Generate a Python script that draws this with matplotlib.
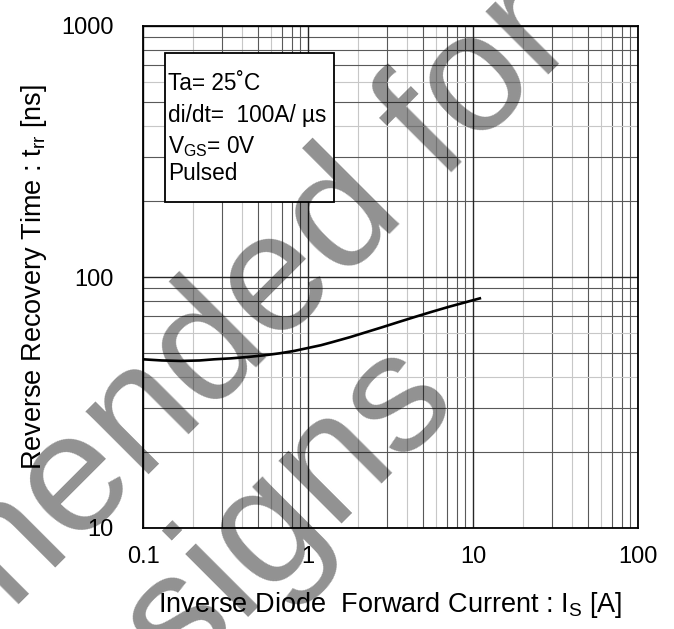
import matplotlib
matplotlib.use("Agg")
from matplotlib import pyplot as plt
from matplotlib.patches import Rectangle
from matplotlib.ticker import NullFormatter, FixedLocator

plt.rcParams["font.family"] = ["Liberation Sans", "DejaVu Sans"]
plt.rcParams["mathtext.fontset"] = "custom"
plt.rcParams["mathtext.rm"] = "Liberation Sans"

# curve: Is [A] vs trr [ns]
current = [0.1, 0.13, 0.17, 0.22, 0.27, 0.34, 0.43, 0.55, 0.68, 0.83, 0.98,
           1.2, 1.4, 1.8, 2.2, 2.8, 3.55, 4.5, 5.6, 7.2, 9.0, 11.0]
trr = [47, 46.5, 46.3, 46.5, 47, 47.4, 48, 48.8, 49.7, 50.8, 52,
       53.5, 55, 57.6, 60, 63, 66.2, 69.5, 72.6, 76.2, 79.3, 82.2]

xticks = [0.1, 1, 10, 100]
xticklabels = ["0.1", "1", "10", "100"]
yticks = [10, 100, 1000]
yticklabels = ["10", "100", "1000"]

conditions = ["Ta= 25\u02daC", "di/dt=  100A/ \u00b5s",
              r"V$_\mathregular{GS}$= 0V", "Pulsed"]
xlabel = r"Inverse Diode  Forward Current : I$_\mathregular{S}$ [A]"
ylabel = r"Reverse Recovery Time : t$_\mathregular{rr}$ [ns]"
watermark = ["Not recommended for", "new designs"]

fig = plt.figure(figsize=(6.74, 6.29), dpi=100)
ax = fig.add_axes([143 / 674, 1 - 528 / 629, 495 / 674, 502 / 629])

ax.set_xscale("log")
ax.set_yscale("log")
ax.set_xlim(0.1, 100)
ax.set_ylim(10, 1000)

# grid lines, scanned look: some minor lines dark, some light
for dec in [0.1, 1, 10]:
    for k in range(2, 10):
        c = "0.78" if k in (2, 4, 6) else "0.35"
        ax.axvline(dec * k, color=c, lw=0.8, zorder=1)
for dec in [10, 100]:
    for k in range(2, 10):
        c = "0.78" if k in (4, 6) else "0.35"
        ax.axhline(dec * k, color=c, lw=0.8, zorder=1)
for v in xticks:
    ax.axvline(v, color="0.15", lw=1.0, zorder=1)
for v in yticks:
    ax.axhline(v, color="0.15", lw=1.0, zorder=1)

ax.plot(current, trr, color="black", lw=1.9, zorder=3,
        solid_joinstyle="round")

ax.xaxis.set_major_locator(FixedLocator(xticks))
ax.yaxis.set_major_locator(FixedLocator(yticks))
ax.xaxis.set_minor_formatter(NullFormatter())
ax.yaxis.set_minor_formatter(NullFormatter())
ax.set_xticklabels(xticklabels)
ax.set_yticklabels(yticklabels)
ax.tick_params(which="both", length=0)
ax.tick_params(axis="x", labelsize=17, pad=13)
ax.tick_params(axis="y", labelsize=17, pad=21)

for s in ax.spines.values():
    s.set_linewidth(1.3)
    s.set_color("black")
    s.set_zorder(4)

ax.set_xlabel(xlabel, fontsize=19.5, va="baseline")
ax.xaxis.set_label_coords(0.5, (528 - 612) / 502)
ax.set_ylabel(ylabel, fontsize=19.5, va="baseline", ha="center",
              rotation_mode="anchor")
ax.yaxis.set_label_coords((41 - 143) / 495, 0.5)

# conditions box
ax.add_patch(Rectangle((0.044, 0.649), 0.342, 0.297, transform=ax.transAxes,
                       facecolor="white", edgecolor="black", lw=1.3, zorder=5))
for txt, yy in zip(conditions, [0.872, 0.808, 0.746, 0.693]):
    ax.text(0.05, yy, txt, transform=ax.transAxes, fontsize=16.3,
            va="baseline", ha="left", zorder=6)

# watermark
for txt, (px, py) in zip(watermark, [(1, 622), (127, 738)]):
    fig.text(px / 674, 1 - py / 629, txt, fontsize=122, color="black",
             alpha=0.43, rotation=45, rotation_mode="anchor",
             ha="center", va="baseline", zorder=10)

fig.savefig("out.png", dpi=100)
